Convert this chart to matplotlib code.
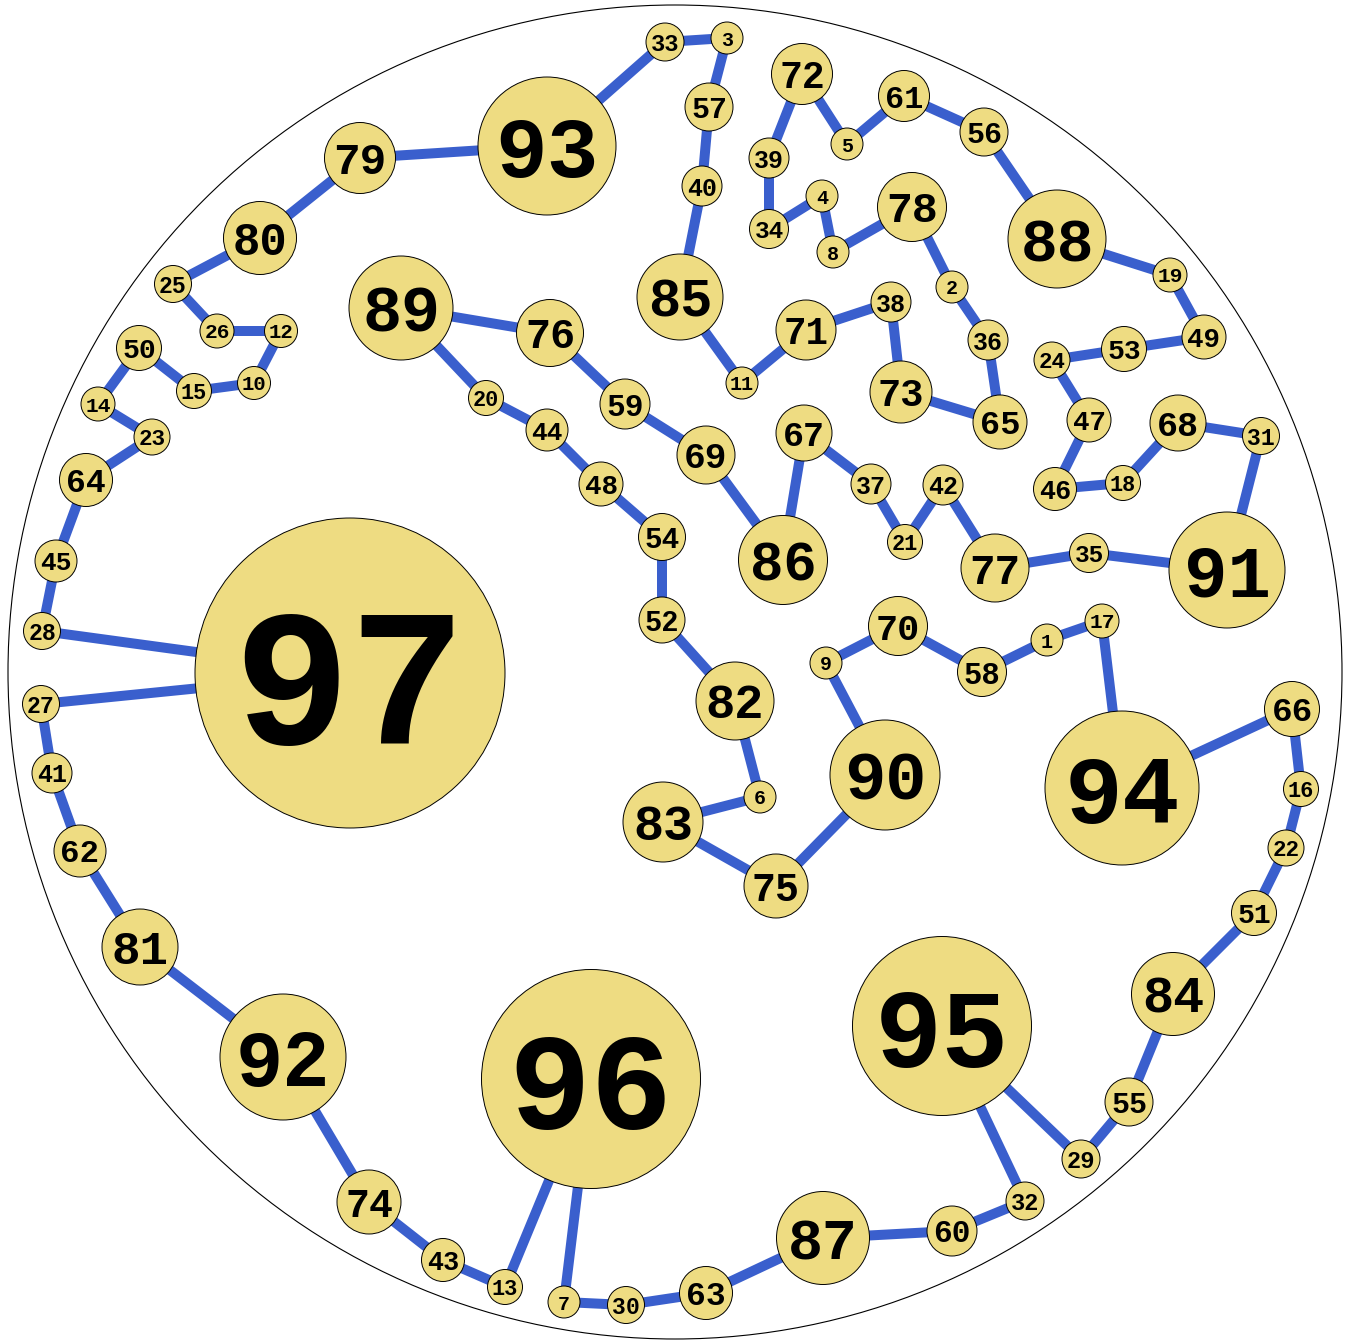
import numpy as np
import matplotlib
matplotlib.use('Agg')
import matplotlib.pyplot as plt
from matplotlib.patches import Circle

# nodes in the order of the loop (pixel coords)
labels = [93, 33, 3, 57, 40, 85, 11, 71, 38, 73,
          65, 36, 2, 78, 8, 4, 34, 39, 72, 5,
          61, 56, 88, 19, 49, 53, 24, 47, 46, 18,
          68, 31, 91, 35, 77, 42, 21, 37, 67, 86,
          69, 59, 76, 89, 20, 44, 48, 54, 52, 82,
          6, 83, 75, 90, 9, 70, 58, 1, 17, 94,
          66, 16, 22, 51, 84, 55, 29, 95, 32, 60,
          87, 63, 30, 7, 96, 13, 43, 74, 92, 81,
          62, 41, 27, 97, 28, 45, 64, 23, 14, 50,
          15, 10, 12, 26, 25, 80, 79]
xs = [547, 665, 727, 709, 702, 680, 742, 806, 891, 901,
      1000, 988, 952, 912, 833, 822, 769, 769, 802, 847,
      904, 984, 1057, 1170, 1204, 1124, 1052, 1089, 1055, 1123,
      1178, 1261, 1227, 1089, 995, 943, 905, 871, 804, 783,
      706, 625, 550, 401, 486, 547, 601, 662, 662, 735,
      760, 663, 776, 885, 826, 898, 982, 1047, 1102, 1122,
      1292, 1301, 1286, 1254, 1173, 1129, 1081, 942, 1025, 952,
      823, 706, 626, 564, 591, 505, 443, 369, 283, 140,
      80, 52, 41, 350, 42, 56, 86, 152, 98, 139,
      194, 254, 281, 217, 173, 260, 360]
ys = [146, 42, 38, 107, 186, 297, 383, 330, 302, 392,
      422, 340, 287, 207, 252, 196, 229, 158, 74, 144,
      96, 132, 239, 275, 337, 349, 360, 420, 489, 483,
      423, 436, 570, 553, 568, 485, 542, 484, 433, 560,
      455, 404, 333, 308, 398, 430, 484, 537, 620, 701,
      797, 822, 886, 775, 663, 626, 672, 640, 621, 788,
      709, 789, 848, 913, 994, 1102, 1159, 1026, 1201, 1231,
      1238, 1293, 1305, 1302, 1079, 1287, 1260, 1202, 1057, 947,
      851, 773, 704, 673, 631, 561, 480, 437, 404, 348,
      391, 383, 331, 331, 284, 238, 158]
rs = [69, 19, 16, 24, 20, 43, 16, 30, 20, 31,
      27, 20, 16, 34.5, 16, 16, 19.5, 20, 30.5, 16,
      25.5, 24, 49, 17, 22, 22.5, 18, 22, 21.5, 17.5,
      28, 18.5, 58, 19.5, 34, 20, 17.5, 20, 28, 44.5,
      29, 25, 33.5, 52, 17.5, 21, 22, 23.5, 23, 39,
      16, 40, 32, 55, 16, 29.5, 24.5, 16, 17, 77,
      27.5, 17.5, 18, 22.5, 41.5, 24, 19, 89.5, 19, 25,
      46.5, 26.5, 18.5, 16, 109.5, 17.5, 21.5, 32, 63, 38,
      26, 20, 18.5, 155, 18.5, 21, 26.5, 18, 17, 22.5,
      17.5, 16.5, 16.5, 17, 18.5, 36.5, 35.5]

fig = plt.figure(figsize=(13.49, 13.40), dpi=100)
ax = fig.add_axes([0, 0, 1, 1])
ax.set_xlim(0, 1349)
ax.set_ylim(1340, 0)
ax.set_aspect('equal')
ax.axis('off')

# outer boundary
ax.add_patch(Circle((675, 672), 667, fill=False, lw=0.8, ec='black'))

# loop edges
n = len(labels)
for i in range(n):
    j = (i + 1) % n
    ax.plot([xs[i], xs[j]], [ys[i], ys[j]], color='#3A5FCD', lw=7.2,
            solid_capstyle='butt', zorder=1)

for lab, x, y, r in zip(labels, xs, ys, rs):
    ax.add_patch(Circle((x, y), r, fc='#EEDC82', ec='black', lw=0.7, zorder=2))
    ax.text(x, y, str(lab), ha='center', va='center_baseline',
            fontsize=0.9 * r, family='Liberation Mono', weight='bold', zorder=3)

fig.savefig('out.png', dpi=100)
